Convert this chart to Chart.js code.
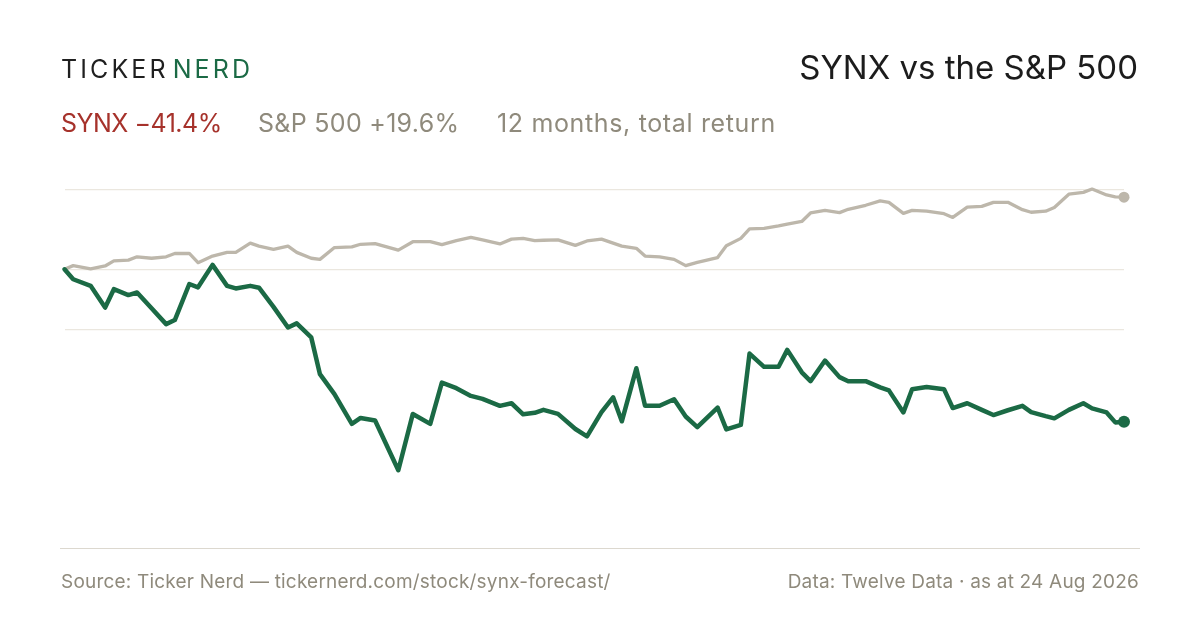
<!DOCTYPE html>
<html>
<head>
<meta charset="utf-8">
<script src="https://cdn.jsdelivr.net/npm/chart.js@4.4.1/dist/chart.umd.min.js"></script>
<style>
  html, body {
    margin: 0;
    padding: 0;
    background: #ffffff;
  }
  body {
    width: 1200px;
    height: 630px;
    position: relative;
    overflow: hidden;
    font-family: "Inter", "Noto Sans", sans-serif;
  }
  .abs {
    position: absolute;
    white-space: nowrap;
    line-height: 1;
  }
  .brand {
    left: 61px;
    top: 57px;
    font-size: 25px;
    letter-spacing: 3.1px;
    color: #1f1f1f;
  }
  .brand .nerd {
    color: #1b6a45;
    margin-left: 4px;
  }
  .title {
    right: 62px;
    top: 50.5px;
    font-size: 33px;
    color: #1c1c1c;
  }
  .sub {
    top: 110.7px;
    font-size: 25px;
    letter-spacing: 0.3px;
    color: #8f8a7c;
  }
  .sub.synx {
    left: 61px;
    letter-spacing: -0.5px;
    color: #a6322b;
  }
  .sub.spx { left: 258px; }
  .sub.period {
    left: 497px;
    letter-spacing: 0.65px;
  }
  .rule {
    position: absolute;
    left: 60px;
    top: 548px;
    width: 1080px;
    height: 1px;
    background: #dcd8cf;
  }
  .foot {
    top: 572px;
    font-size: 19px;
    letter-spacing: 0.2px;
    color: #8f8a7c;
  }
  .foot.left { left: 61px; }
  .foot.right { right: 61px; }
  #chart {
    position: absolute;
    left: 0;
    top: 0;
  }
</style>
</head>
<body>
<canvas id="chart" width="1200" height="630"></canvas>

<div class="abs brand">TICKER<span class="nerd">NERD</span></div>
<div class="abs title">SYNX vs the S&amp;P 500</div>

<div class="abs sub synx">SYNX −41.4%</div>
<div class="abs sub spx">S&amp;P 500 +19.6%</div>
<div class="abs sub period">12 months, total return</div>

<div class="rule"></div>
<div class="abs foot left">Source: Ticker Nerd — tickernerd.com/stock/synx-forecast/</div>
<div class="abs foot right">Data: Twelve Data · as at 24 Aug 2026</div>

<script>
// days since the start of the 12 month window
const days = [
  0, 3, 9, 14, 17, 22, 25, 30, 35, 38,
  43, 46, 51, 56, 59, 64, 67, 72, 77, 80,
  85, 88, 93, 99, 102, 107, 115, 120, 126, 130,
  135, 140, 144, 150, 154, 158, 162, 165, 170, 176,
  180, 185, 189, 192, 197, 200, 205, 210, 214, 218,
  225, 228, 233, 236, 241, 246, 249, 254, 257, 262,
  267, 270, 276, 281, 284, 289, 292, 297, 303, 306,
  311, 316, 320, 325, 330, 333, 338, 341, 346, 351,
  354, 359, 362, 365
];

// total return since start, %
const synxReturn = [
  0, -2.7, -4.5, -10.4, -5.4, -7.0, -6.3, -10.6, -14.9, -13.8,
  -4.0, -4.9, 1.2, -4.5, -5.2, -4.5, -5.0, -10.2, -15.8, -14.7,
  -18.5, -28.5, -33.9, -42.0, -40.4, -41.1, -54.6, -39.3, -42.0, -30.8,
  -32.3, -34.4, -35.2, -37.1, -36.4, -39.4, -39.0, -38.2, -39.3, -43.4,
  -45.4, -38.8, -34.8, -41.3, -26.9, -37.1, -37.1, -35.3, -40.0, -42.9,
  -37.6, -43.5, -42.3, -22.9, -26.5, -26.5, -21.9, -28.0, -30.4, -24.8,
  -29.3, -30.4, -30.4, -32.1, -32.9, -38.9, -32.6, -32.0, -32.6, -37.7,
  -36.4, -38.2, -39.6, -38.3, -37.1, -38.8, -39.9, -40.5, -38.2, -36.4,
  -37.8, -38.9, -41.6, -41.4
];

const spxReturn = [
  0, 1.0, 0.1, 0.9, 2.3, 2.5, 3.4, 3.0, 3.4, 4.3,
  4.3, 1.8, 3.6, 4.6, 4.6, 7.1, 6.3, 5.4, 6.3, 4.6,
  3.0, 2.7, 5.9, 6.1, 6.8, 7.0, 5.2, 7.5, 7.5, 6.7,
  7.8, 8.7, 8.0, 6.9, 8.2, 8.4, 7.8, 7.9, 8.0, 6.5,
  7.7, 8.2, 7.1, 6.3, 5.7, 3.6, 3.4, 2.7, 1.0, 1.9,
  3.2, 6.4, 8.4, 11.0, 11.1, 11.8, 12.3, 13.0, 15.3, 16.0,
  15.4, 16.3, 17.4, 18.6, 18.2, 15.2, 16.0, 15.8, 15.1, 14.1,
  16.9, 17.1, 18.2, 18.2, 16.2, 15.5, 15.8, 16.8, 20.4, 20.9,
  21.8, 20.2, 19.7, 19.6
];

// horizontal guide lines, %
const gridValues = [21.7, 0, -16.4];

const GREEN = "#1b6a45";
const STONE = "#bdb7ab";

function toPoints(values) {
  return days.map((d, i) => ({ x: d, y: values[i] }));
}

function endDot(size) {
  return ctx => (ctx.dataIndex === days.length - 1 ? size : 0);
}

new Chart(document.getElementById("chart"), {
  type: "line",
  data: {
    datasets: [
      {
        label: "SYNX",
        data: toPoints(synxReturn),
        borderColor: GREEN,
        backgroundColor: GREEN,
        borderWidth: 4.5,
        pointRadius: endDot(6),
        pointBorderWidth: 0,
        borderJoinStyle: "round",
        borderCapStyle: "round",
        tension: 0,
        clip: false,
        order: 0
      },
      {
        label: "S&P 500",
        data: toPoints(spxReturn),
        borderColor: STONE,
        backgroundColor: STONE,
        borderWidth: 3.3,
        pointRadius: endDot(5.5),
        pointBorderWidth: 0,
        borderJoinStyle: "round",
        borderCapStyle: "round",
        tension: 0,
        clip: false,
        order: 1
      }
    ]
  },
  options: {
    responsive: false,
    animation: false,
    events: [],
    layout: {
      padding: { left: 64.5, right: 76, top: 177.3, bottom: 139.9 }
    },
    plugins: {
      legend: { display: false },
      tooltip: { enabled: false }
    },
    scales: {
      x: {
        type: "linear",
        min: 0,
        max: 365,
        display: false
      },
      y: {
        type: "linear",
        min: -60,
        max: 25,
        border: { display: false },
        ticks: { display: false },
        grid: {
          drawTicks: false,
          color: "#ebe7df",
          lineWidth: 1.2
        },
        afterBuildTicks: function(scale) {
          scale.ticks = gridValues.map(v => ({ value: v }));
        }
      }
    }
  }
});
</script>
</body>
</html>
